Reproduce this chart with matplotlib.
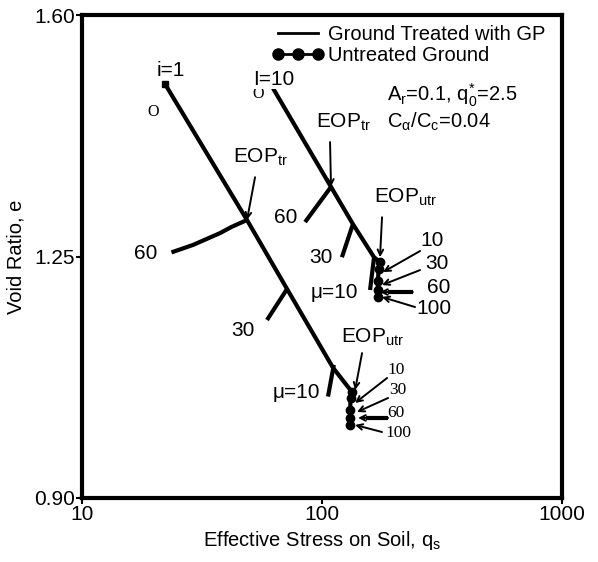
import matplotlib
matplotlib.use("Agg")
import matplotlib.pyplot as plt
from matplotlib.lines import Line2D

plt.rcParams['font.family'] = ['Liberation Sans', 'DejaVu Sans']
plt.rcParams['mathtext.fontset'] = 'custom'
plt.rcParams['mathtext.rm'] = 'Liberation Sans'
plt.rcParams['mathtext.it'] = 'Liberation Sans:italic'
plt.rcParams['mathtext.sf'] = 'Liberation Sans'

# === treated ground lines (stress, void ratio) ===
line1_q = [22.2, 48.7, 71.5, 111.0, 133.0]
line1_e = [1.500, 1.303, 1.203, 1.089, 1.054]
line2_q = [62.5, 109.0, 134.5, 164.7, 174.4]
line2_e = [1.494, 1.351, 1.297, 1.249, 1.242]

# branches from line 1: 60, 30, mu=10
b1_60_q = [48.7, 42.0, 37.6, 29.1, 23.6]
b1_60_e = [1.303, 1.293, 1.284, 1.267, 1.256]
b1_30_q = [71.5, 59.0]
b1_30_e = [1.203, 1.158]
b1_10_q = [112.0, 105.9]
b1_10_e = [1.093, 1.047]

# branches from line 2
b2_60_q = [109.0, 85.0]
b2_60_e = [1.351, 1.300]
b2_30_q = [134.5, 121.0]
b2_30_e = [1.297, 1.249]
b2_10_q = [164.7, 158.5]
b2_10_e = [1.249, 1.2015]

# untreated ground (EOP, 10, 30, 60, 100)
utr_low_q = [133.0, 131.5, 131.0, 131.0, 131.0]
utr_low_e = [1.054, 1.045, 1.028, 1.016, 1.006]
utr_up_q = [174.0, 172.0, 171.0, 171.0, 171.0]
utr_up_e = [1.242, 1.232, 1.2146, 1.2015, 1.1914]

time_labels = ['10', '30', '60', '100']
# arrows to the untreated points: (tail q, tail e, head q, head e, label q, label e)
up_arrows = [(256, 1.258, 179.6, 1.2275, 287, 1.274),
             (256, 1.2304, 177.8, 1.2087, 301, 1.2406),
             (239, 1.1985, 174.4, 1.1985, 307, 1.2058),
             (244, 1.1768, 177.8, 1.1913, 293, 1.1754)]
low_arrows = [(186.6, 1.0739, 137.3, 1.0377, 203.4, 1.0855),
              (188.4, 1.0449, 139.9, 1.0246, 207.4, 1.0565),
              (188.4, 1.016, 141.3, 1.016, 203.4, 1.0232),
              (177.8, 0.9956, 137.3, 1.0058, 207.4, 0.9942)]

fig = plt.figure(figsize=(5.98, 5.62), dpi=100)
ax = fig.add_axes([0.137, 0.114, 0.803, 0.859])

lw = 3.0
for q, e in [(line1_q, line1_e), (line2_q, line2_e),
             (b1_60_q, b1_60_e), (b1_30_q, b1_30_e), (b1_10_q, b1_10_e),
             (b2_60_q, b2_60_e), (b2_30_q, b2_30_e), (b2_10_q, b2_10_e)]:
    ax.plot(q, e, color='black', lw=lw, solid_capstyle='butt')
ax.plot(line1_q[0], line1_e[0], 's', color='black', ms=4)

ax.plot(utr_low_q, utr_low_e, color='black', lw=lw, marker='o', ms=6)
ax.plot(utr_up_q, utr_up_e, color='black', lw=lw, marker='o', ms=6)

thin = dict(arrowstyle='->', color='black', lw=1.4, shrinkA=0, shrinkB=0)


def time_arrows(arrows, fsize, fam):
    for (tq, te, hq, he, lq, le), lab in zip(arrows, time_labels):
        ax.annotate('', xy=(hq, he), xytext=(tq, te), arrowprops=thin)
        if lab == '60':
            # thick shaft, thin head
            ax.plot([tq, hq * 1.08], [te, he], color='black', lw=3, solid_capstyle='butt')
        ax.text(lq, le, lab, fontsize=fsize, ha='center', va='center', family=fam)


time_arrows(up_arrows, 15, ['Liberation Sans'])
time_arrows(low_arrows, 12.5, ['Liberation Serif'])

# EOP arrows
ax.annotate('', xy=(48.7, 1.303), xytext=(52.6, 1.365), arrowprops=thin)
ax.annotate('', xy=(109.0, 1.351), xytext=(108.0, 1.416), arrowprops=thin)
ax.annotate('', xy=(174.4, 1.249), xytext=(177.8, 1.307), arrowprops=thin)
ax.annotate('', xy=(137.3, 1.0565), xytext=(146.8, 1.110), arrowprops=thin)

fs = 15
ax.text(55.2, 1.394, r'EOP$_{\mathrm{tr}}$', fontsize=fs, ha='center', va='center')
ax.text(122.4, 1.445, r'EOP$_{\mathrm{tr}}$', fontsize=fs, ha='center', va='center')
ax.text(221.8, 1.336, r'EOP$_{\mathrm{utr}}$', fontsize=fs, ha='center', va='center')
ax.text(161.6, 1.133, r'EOP$_{\mathrm{utr}}$', fontsize=fs, ha='center', va='center')

ax.text(23.5, 1.520, 'i=1', fontsize=fs, ha='center', va='center')
ax.text(19.8, 1.459, 'O', fontsize=11.5, ha='center', va='center', family='Liberation Serif')
ax.text(54.1, 1.485, 'O', fontsize=11.5, ha='center', va='center', family='Liberation Serif')
ax.text(63.1, 1.507, 'I=10', fontsize=fs, ha='center', va='center', zorder=5,
        bbox=dict(facecolor='white', edgecolor='none', pad=0.3))

ax.text(18.5, 1.255, '60', fontsize=fs, ha='center', va='center')
ax.text(46.9, 1.1435, '30', fontsize=fs, ha='center', va='center')
ax.text(78.3, 1.0536, 'μ=10', fontsize=fs, ha='center', va='center')
ax.text(70.8, 1.307, '60', fontsize=fs, ha='center', va='center')
ax.text(99.1, 1.249, '30', fontsize=fs, ha='center', va='center')
ax.text(112.2, 1.1985, 'μ=10', fontsize=fs, ha='center', va='center')

ax.text(186.0, 1.484, r'A$_{\mathrm{r}}$=0.1, q$^{*}_{0}$=2.5', fontsize=14.5, ha='left', va='center')
ax.text(186.0, 1.445, r'C$_{\mathrm{α}}$/C$_{\mathrm{c}}$=0.04', fontsize=14.5, ha='left', va='center')

handles = [Line2D([], [], color='black', lw=2),
           Line2D([], [], color='black', lw=2, marker='o', ms=8)]
ax.legend(handles, ['Ground Treated with GP', 'Untreated Ground'],
          loc='upper left', bbox_to_anchor=(0.385, 0.99), frameon=False,
          fontsize=14.5, numpoints=3, handlelength=2.6, handletextpad=0.2,
          labelspacing=0.1, borderpad=0.25, borderaxespad=0)

ax.set_xscale('log')
ax.set_xlim(10, 1000)
ax.set_ylim(0.90, 1.60)
ax.set_yticks([0.90, 1.25, 1.60])
ax.set_yticklabels(['0.90', '1.25', '1.60'])
ax.set_xticks([10, 100, 1000])
ax.set_xticklabels(['10', '100', '1000'])
ax.minorticks_off()
ax.tick_params(direction='out', length=4, width=1.5, labelsize=15, pad=1)
for s in ax.spines.values():
    s.set_linewidth(3)

ax.set_xlabel('Effective Stress on Soil, q$_{\\mathrm{s}}$', fontsize=14.5, labelpad=4)
ax.set_ylabel('Void Ratio, e', fontsize=14.5, labelpad=6)

fig.savefig('out.png', dpi=100)
